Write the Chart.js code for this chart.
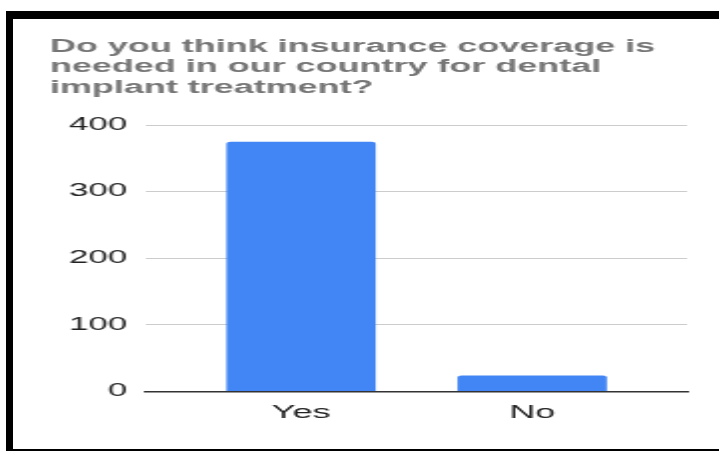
<!DOCTYPE html>
<html>
<head>
<meta charset="utf-8">
<script src="https://cdn.jsdelivr.net/npm/chart.js@4.4.1/dist/chart.umd.min.js"></script>
<style>
  html, body { margin: 0; padding: 0; background: #fff; overflow: hidden; }
  body { width: 719px; height: 452px; position: relative; }
  /* black frame: thick top + left, thin bottom, open on the right */
  .frame {
    position: absolute; left: 6px; top: 11px; width: 760px; height: 430px;
    border-top: 8px solid #000; border-left: 7px solid #000; border-bottom: 2px solid #000;
  }
  #surveyChart { position: absolute; left: 0; top: 0; }
</style>
</head>
<body>
<div class="frame"></div>
<!-- the picture is stretched sideways, so draw narrow and widen with inline css -->
<canvas id="surveyChart" width="360" height="452" style="width:719px;height:452px"></canvas>
<script>
const titleLines = ['Do you think insurance coverage is', 'needed in our country for dental', 'implant treatment?'];
const categories = ['Yes', 'No'];
const responses = [375, 24];
const yTicks = [0, 100, 200, 300, 400];

const fontFamily = "'Liberation Sans', Arial, sans-serif";

new Chart(document.getElementById('surveyChart'), {
  type: 'bar',
  data: {
    datasets: [{
      label: 'Responses',
      data: categories.map((c, i) => ({ x: i, y: responses[i] })),
      backgroundColor: '#4285f4',
      borderRadius: 2,
      categoryPercentage: 1,
      barPercentage: 0.646
    }]
  },
  options: {
    responsive: false,
    animation: false,
    layout: { padding: { top: 0, left: 25, right: 16, bottom: 17 } },
    plugins: {
      legend: { display: false },
      tooltip: { enabled: false },
      title: {
        display: true,
        text: titleLines,
        align: 'start',
        color: '#757575',
        font: { family: fontFamily, size: 18, weight: 'bold', lineHeight: 1.14 },
        padding: { top: 36.5, bottom: 27 }
      }
    },
    scales: {
      x: {
        type: 'linear',
        min: -0.67,
        max: 1.67,
        offset: false,
        z: 1,
        afterBuildTicks: (scale) => { scale.ticks = categories.map((c, i) => ({ value: i })); },
        grid: { display: false, drawTicks: false },
        border: { display: true, color: '#333', width: 1.5 },
        ticks: {
          autoSkip: false,
          maxRotation: 0,
          padding: 11,
          color: '#222',
          font: { family: fontFamily, size: 18 },
          callback: (v) => categories[v]
        }
      },
      y: {
        min: 0,
        max: 400,
        afterBuildTicks: (scale) => { scale.ticks = yTicks.map(v => ({ value: v })); },
        grid: { color: '#cccccc', lineWidth: 1, drawTicks: false },
        border: { display: false },
        ticks: {
          padding: 9.5,
          color: '#222',
          font: { family: fontFamily, size: 17.5 }
        }
      }
    }
  }
});
</script>
</body>
</html>
